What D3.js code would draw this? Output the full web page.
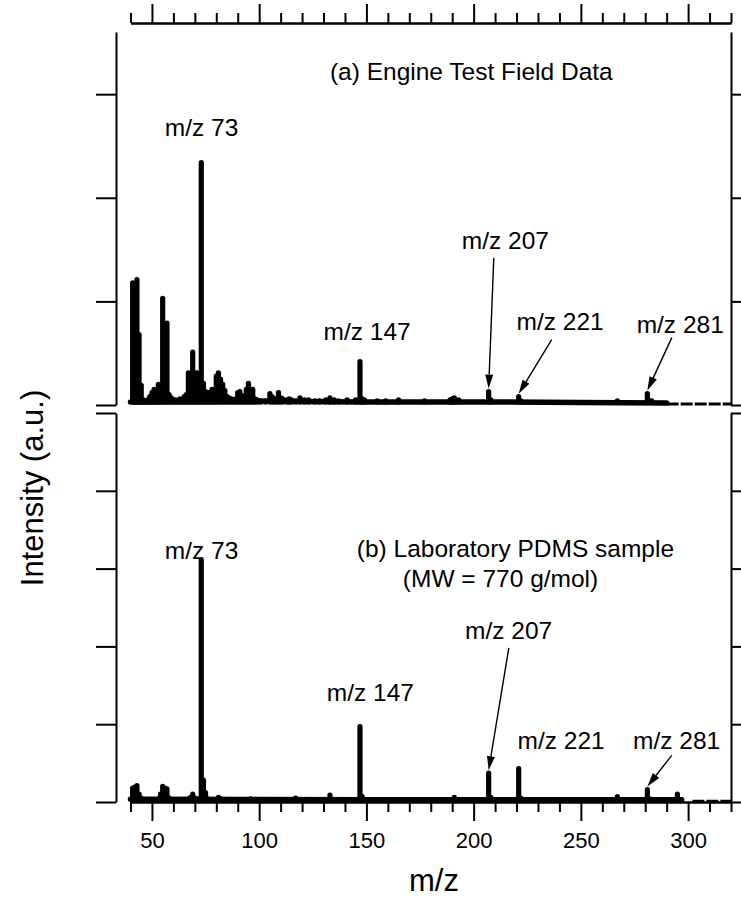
<!DOCTYPE html>
<html>
<head>
<meta charset="utf-8">
<script src="https://cdn.jsdelivr.net/npm/d3@7"></script>
<style>
body { margin: 0; background: #fff; }
svg { display: block; font-family: "Liberation Sans", Arial, sans-serif; }
.axis path, .axis line { stroke: #000; stroke-width: 2; fill: none; }
.axis text { font-size: 22px; fill: #000; font-family: "Liberation Sans", Arial, sans-serif; }
.label { font-size: 24.5px; fill: #000; }
.title { font-size: 31px; fill: #000; }
</style>
</head>
<body>
<div class="container"></div>
<script>
const WIDTH = 741;
const HEIGHT = 900;

const PLOT_LEFT = 130.5;
const PLOT_RIGHT = 731;
const YAXIS_X = 116;
const TOP_AXIS_Y = 23;
const A_TOP = 32, A_BOTTOM = 405;
const B_TOP = 413, B_BOTTOM = 802;

// m/z range and ticks
var mzDomain = [40, 320];
var majorTicks = [50, 100, 150, 200, 250, 300];
var minorTicks = [40, 60, 70, 80, 90, 110, 120, 130, 140, 160, 170, 180, 190, 210, 220, 230, 240, 260, 270, 280, 290, 310, 320];
var ticksA = [0, 1, 2, 3];
var ticksB = [0, 1, 2, 3, 4, 5];

// (a) engine test field data: peak m/z and intensity (a.u.)
var mzA = [41, 42, 43, 44, 45, 46, 47, 48, 49, 50, 51, 52, 53, 54, 55, 56, 57, 58, 59, 60,
	61, 62, 63, 64, 65, 66, 67, 68, 69, 70, 71, 72, 73, 74, 75, 76, 77, 78, 79, 80,
	81, 82, 83, 84, 85, 86, 87, 88, 89, 90, 91, 92, 93, 94, 95, 96, 97, 98, 99, 100,
	101, 103, 105, 106, 107, 108, 109, 110, 111, 113, 114, 115, 117, 119, 121, 123, 126, 128, 131, 133,
	135, 137, 141, 145, 147, 148, 149, 155, 159, 165, 177, 189, 190, 191, 193, 207, 208, 221, 222, 267,
	281, 282, 283];
var intA = [1.18, 1.14, 1.21, 0.68, 0.19, 0.05, 0.04, 0.05, 0.08, 0.12, 0.15, 0.13, 0.2, 0.18, 1.03, 0.3, 0.79, 0.1, 0.07, 0.05,
	0.05, 0.04, 0.06, 0.05, 0.08, 0.1, 0.31, 0.3, 0.51, 0.31, 0.31, 0.25, 2.34, 0.21, 0.13, 0.12, 0.12, 0.15, 0.14, 0.28,
	0.31, 0.25, 0.2, 0.14, 0.08, 0.07, 0.06, 0.05, 0.06, 0.12, 0.13, 0.09, 0.08, 0.15, 0.21, 0.15, 0.15, 0.06, 0.05, 0.04,
	0.04, 0.04, 0.11, 0.08, 0.06, 0.06, 0.12, 0.07, 0.06, 0.05, 0.06, 0.05, 0.04, 0.07, 0.05, 0.05, 0.04, 0.04, 0.05, 0.07,
	0.05, 0.04, 0.05, 0.05, 0.42, 0.06, 0.05, 0.04, 0.04, 0.05, 0.04, 0.05, 0.06, 0.07, 0.05, 0.13, 0.05, 0.08, 0.04, 0.04,
	0.11, 0.04, 0.04];
var baseA = [[40, 0.03], [100, 0.035], [150, 0.03], [200, 0.03], [250, 0.025], [290, 0.02]];
var tailA = [[290, 0.01], [320, 0.01]];

// (b) laboratory PDMS sample
var mzB = [41, 42, 43, 44, 45, 53, 54, 55, 56, 57, 58, 67, 68, 69, 70, 71, 73, 74, 75, 76,
	81, 82, 96, 117, 133, 147, 148, 191, 207, 208, 221, 222, 267, 281, 282, 295];
var intB = [0.18, 0.19, 0.21, 0.1, 0.05, 0.04, 0.1, 0.2, 0.18, 0.17, 0.05, 0.04, 0.06, 0.1, 0.05, 0.04, 3.11, 0.28, 0.12, 0.04,
	0.06, 0.04, 0.04, 0.05, 0.09, 0.97, 0.07, 0.06, 0.37, 0.06, 0.43, 0.05, 0.07, 0.16, 0.04, 0.1];
var baseB = [[40, 0.035], [150, 0.03], [297, 0.03]];
var tailB = [[302, 0.01], [320, 0.01]];

// annotations: text, anchor m/z, anchor intensity
var labelsA = [
	["(a) Engine Test Field Data", 133, 3.14],
	["m/z 73", 56, 2.6],
	["m/z 147", 130, 0.63],
	["m/z 207", 194.5, 1.51],
	["m/z 221", 220, 0.72],
	["m/z 281", 276, 0.695]
];
var labelsB = [
	["(b) Laboratory PDMS sample", 145.5, 3.15],
	["(MW = 770 g/mol)", 167, 2.76],
	["m/z 73", 56, 3.12],
	["m/z 147", 131.5, 1.3],
	["m/z 207", 196, 2.1],
	["m/z 221", 220.5, 0.68],
	["m/z 281", 274.3, 0.68]
];
// arrows: tail m/z, tail intensity, target peak m/z
var arrowsA = [[209.4, 1.42, 207], [236.4, 0.63, 221], [292.4, 0.65, 281]];
var arrowsB = [[216.4, 1.98, 207], [292.4, 0.6, 281]];

var _svg, _x;

var translate = function(x, y){
	return "translate(" + x + "," + y + ")";
};

var drawPanel = function(yScale, ticks, mz, values, base, tail, labels, arrows){
	_svg.append('g')
		.attr('class', 'axis')
		.attr('transform', translate(YAXIS_X, 0))
		.call(d3.axisLeft(yScale).tickValues(ticks).tickSize(20).tickSizeOuter(0).tickFormat(''));

	_svg.append('g')
		.attr('class', 'axis')
		.attr('transform', translate(PLOT_RIGHT, 0))
		.call(d3.axisRight(yScale).tickValues(ticks).tickSize(20).tickSizeOuter(0).tickFormat(''));

	var line = d3.line()
		.x(function(d){ return _x(d[0]); })
		.y(function(d){ return yScale(d[1]); });

	_svg.append('path')
		.attr('d', line(base))
		.attr('fill', 'none')
		.attr('stroke', '#000')
		.attr('stroke-width', 5.5)
		.attr('stroke-linecap', 'round');

	_svg.append('path')
		.attr('d', line(tail))
		.attr('fill', 'none')
		.attr('stroke', '#000')
		.attr('stroke-width', 3)
		.attr('stroke-dasharray', '12,2');

	var base0 = base[0][1];
	_svg.append('g').selectAll('line')
		.data(mz)
		.enter().append('line')
		.attr('x1', function(d){ return _x(d); })
		.attr('x2', function(d){ return _x(d); })
		.attr('y1', yScale(base0))
		.attr('y2', function(d, i){ return yScale(values[i]); })
		.attr('stroke', '#000')
		.attr('stroke-width', 5.2)
		.attr('stroke-linecap', 'round');

	_svg.append('g').selectAll('text')
		.data(labels)
		.enter().append('text')
		.attr('class', 'label')
		.attr('x', function(d){ return _x(d[1]); })
		.attr('y', function(d){ return yScale(d[2]); })
		.text(function(d){ return d[0]; });

	arrows.forEach(function(a){
		var peak = values[mz.indexOf(a[2])];
		var x1 = _x(a[0]), y1 = yScale(a[1]);
		var x2 = _x(a[2]), y2 = yScale(peak) - 3;
		var ang = Math.atan2(y2 - y1, x2 - x1);
		var len = 14, half = 4;
		var bx = x2 - len * Math.cos(ang), by = y2 - len * Math.sin(ang);
		_svg.append('line')
			.attr('x1', x1).attr('y1', y1)
			.attr('x2', bx).attr('y2', by)
			.attr('stroke', '#000')
			.attr('stroke-width', 1.4);
		_svg.append('path')
			.attr('d', 'M' + x2 + ',' + y2 +
				'L' + (bx + half * Math.sin(ang)) + ',' + (by - half * Math.cos(ang)) +
				'L' + (bx - half * Math.sin(ang)) + ',' + (by + half * Math.cos(ang)) + 'Z')
			.attr('fill', '#000');
	});
};

var generateChart = function(){
	_svg = d3.select('.container').append('svg')
		.attr('width', WIDTH)
		.attr('height', HEIGHT);

	_x = d3.scaleLinear()
		.domain(mzDomain)
		.range([PLOT_LEFT, PLOT_RIGHT]);

	var yA = d3.scaleLinear().domain([0, 3.6]).range([A_BOTTOM, A_TOP]);
	var yB = d3.scaleLinear().domain([0, 5]).range([B_BOTTOM, B_TOP]);

	// top axis
	_svg.append('g')
		.attr('class', 'axis')
		.attr('transform', translate(0, TOP_AXIS_Y))
		.call(d3.axisTop(_x).tickValues(minorTicks).tickSize(10).tickSizeOuter(0).tickFormat(''));
	_svg.append('g')
		.attr('class', 'axis')
		.attr('transform', translate(0, TOP_AXIS_Y))
		.call(d3.axisTop(_x).tickValues(majorTicks).tickSize(19).tickSizeOuter(0).tickFormat(''));

	// bottom axis
	_svg.append('g')
		.attr('class', 'axis')
		.attr('transform', translate(0, B_BOTTOM))
		.call(d3.axisBottom(_x).tickValues(minorTicks).tickSize(10).tickSizeOuter(0).tickFormat(''));
	_svg.append('g')
		.attr('class', 'axis')
		.attr('transform', translate(0, B_BOTTOM))
		.call(d3.axisBottom(_x).tickValues(majorTicks).tickSize(19).tickSizeOuter(0).tickPadding(11));

	drawPanel(yA, ticksA, mzA, intA, baseA, tailA, labelsA, arrowsA);
	drawPanel(yB, ticksB, mzB, intB, baseB, tailB, labelsB, arrowsB);

	_svg.append('text')
		.attr('class', 'title')
		.attr('text-anchor', 'middle')
		.attr('x', 434)
		.attr('y', 891)
		.text('m/z');

	_svg.append('text')
		.attr('class', 'title')
		.attr('text-anchor', 'middle')
		.attr('transform', translate(43, 488) + ' rotate(-90)')
		.text('Intensity (a.u.)');
};

window.onload = function(){
	generateChart();
};
</script>
</body>
</html>
